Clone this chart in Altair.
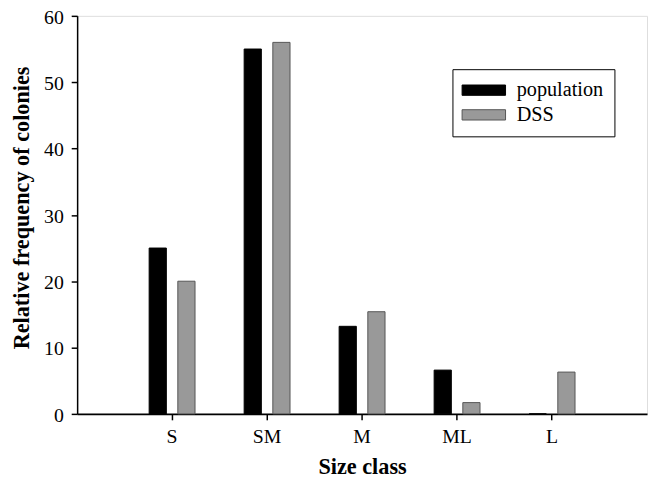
import altair as alt
import pandas as pd

categories = ["S", "SM", "M", "ML", "L"]
population = [25.0, 55.0, 13.2, 6.6, 0.0]
dss = [20.0, 56.0, 15.4, 1.7, 6.3]
series = ["population", "DSS"]

rows = []
for i, c in enumerate(categories):
    rows.append({"cls": c, "series": "population", "value": population[i]})
    rows.append({"cls": c, "series": "DSS", "value": dss[i]})
df = pd.DataFrame(rows)

FONT = "Liberation Serif"

chart = alt.Chart(df).mark_bar(strokeWidth=1).encode(
    x=alt.X("cls:N", sort=categories,
            scale=alt.Scale(paddingInner=0.517, paddingOuter=0.758),
            axis=alt.Axis(title="Size class", labelAngle=0, labelFont=FONT,
                          labelFontSize=20, labelColor="black", titleFont=FONT,
                          titleFontSize=22.5, titleFontWeight="bold", titleColor="black",
                          domainColor="black", domainWidth=2, tickColor="black",
                          tickSize=6, tickWidth=1.5, labelPadding=7, titlePadding=9)),
    xOffset=alt.XOffset("series:N", sort=series,
                        scale=alt.Scale(paddingInner=0.4, paddingOuter=0)),
    y=alt.Y("value:Q",
            scale=alt.Scale(domain=[0, 60], nice=False),
            axis=alt.Axis(title="Relative frequency of colonies", values=[0, 10, 20, 30, 40, 50, 60],
                          grid=False, labelFont=FONT, labelFontSize=20, labelColor="black",
                          labelOffset=1.5,
                          titleFont=FONT, titleFontSize=22.5, titleFontWeight="bold",
                          titleColor="black", domainColor="black", domainWidth=1.5,
                          tickColor="black", tickSize=6, tickWidth=1.5, labelPadding=8,
                          titlePadding=10, titleY=194)),
    color=alt.Color("series:N", sort=series,
                    scale=alt.Scale(domain=series, range=["#000000", "#999999"]),
                    legend=alt.Legend(title=None, orient="none", legendX=380, legendY=54,
                                      strokeColor="black", fillColor="white", padding=11,
                                      labelFont=FONT, labelFontSize=20.5, labelColor="black",
                                      symbolType="M-4,-0.95H4V0.95H-4Z", symbolSize=121,
                                      symbolOffset=10.5, labelOffset=23,
                                      symbolStrokeWidth=1, symbolOpacity=1,
                                      symbolStrokeColor="black", rowPadding=4)),
    stroke=alt.Stroke("series:N", sort=series,
                      scale=alt.Scale(domain=series, range=["#000000", "#555555"]),
                      legend=None),
).properties(
    width=577, height=403,
    padding={"left": 70, "top": 5, "right": 2, "bottom": 65},
    autosize=alt.AutoSizeParams(type="none"),
).configure_view(
    stroke="#444444", strokeWidth=1
).configure(background="white")

chart.save("out.html", embed_options={"renderer": "svg", "actions": False})
